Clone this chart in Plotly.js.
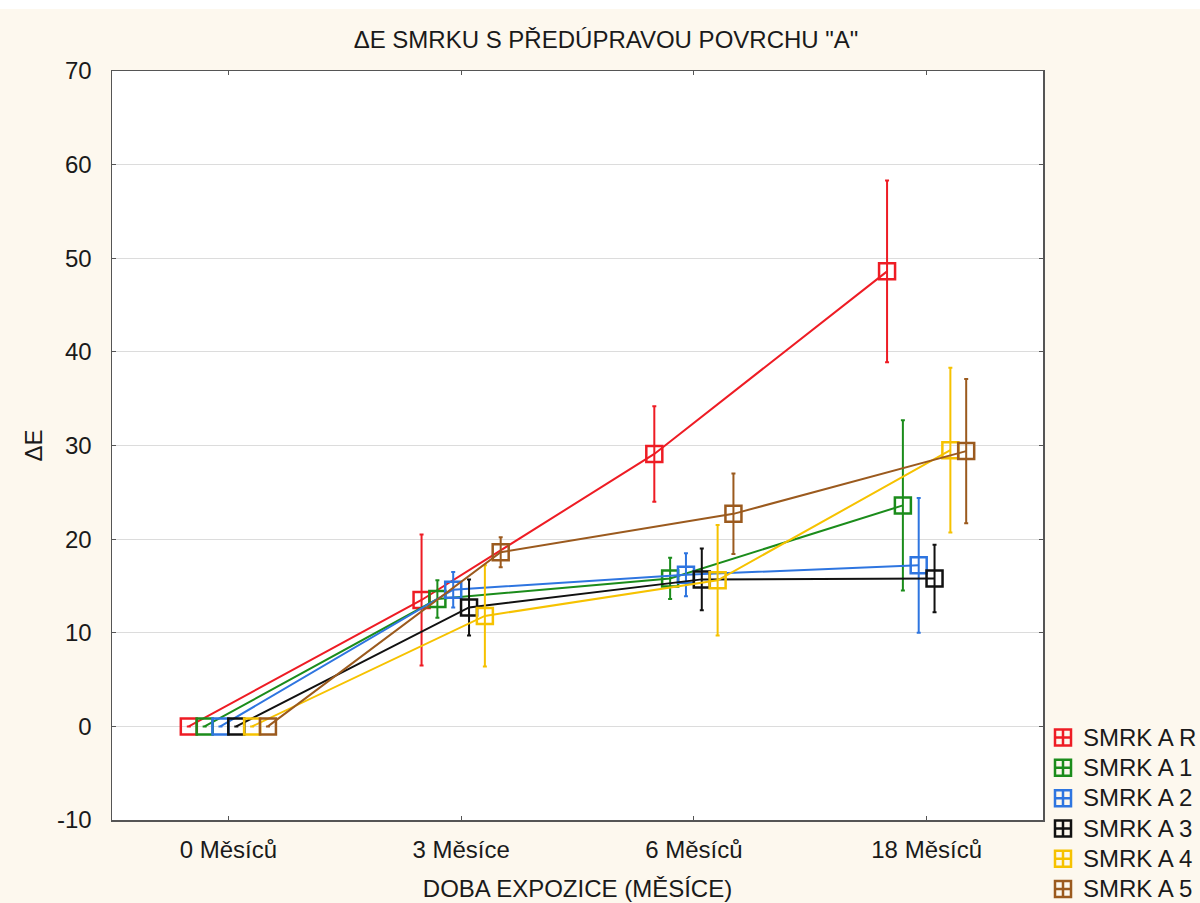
<!DOCTYPE html>
<html>
<head>
<meta charset="utf-8">
<script src="https://cdn.plot.ly/plotly-3.0.1.min.js"></script>
<style>
  html, body { margin: 0; padding: 0; background: #ffffff; }
  #chart { width: 1200px; height: 894px; margin-top: 9px; }
</style>
</head>
<body>
<div id="chart"></div>
<script>
// Categories (x axis)
const categories = ['0 Měsíců', '3 Měsíce', '6 Měsíců', '18 Měsíců'];

// Series names
const seriesNames = ['SMRK A R', 'SMRK A 1', 'SMRK A 2', 'SMRK A 3', 'SMRK A 4', 'SMRK A 5'];

// Mean ΔE values
const smrkR = [0, 13.5, 29.1, 48.6];
const smrk1 = [0, 13.6, 15.8, 23.6];
const smrk2 = [0, 14.6, 16.2, 17.2];
const smrk3 = [0, 12.7, 15.7, 15.8];
const smrk4 = [0, 11.8, 15.6, 29.5];
const smrk5 = [0, 18.6, 22.7, 29.4];

// Error bar half-lengths
const errR = [0, 7.0, 5.1, 9.7];
const err1 = [0, 2.0, 2.2, 9.1];
const err2 = [0, 1.9, 2.3, 7.2];
const err3 = [0, 3.0, 3.3, 3.6];
const err4 = [0, 5.4, 5.9, 8.8];
const err5 = [0, 1.6, 4.3, 7.7];

const yTickVals = [-10, 0, 10, 20, 30, 40, 50, 60, 70];
const yTickText = ['-10', '0', '10', '20', '30', '40', '50', '60', '70'];

// Styling
const colors = ['#ee1c24', '#1b8c1b', '#2e75e0', '#111111', '#f6c200', '#9b5a1e'];
const values = [smrkR, smrk1, smrk2, smrk3, smrk4, smrk5];
const errors = [errR, err1, err2, err3, err4, err5];
const dodge = 0.068;
const FONT = 'Liberation Sans, Arial, sans-serif';

const traces = [];
values.forEach((vals, s) => {
  const xs = categories.map((c, i) => i + (s - 2.5) * dodge);
  traces.push({
    type: 'scatter',
    mode: 'lines+markers',
    x: xs,
    y: vals,
    name: seriesNames[s],
    showlegend: false,
    line: { color: colors[s], width: 2 },
    marker: { symbol: 'square-open', size: 16, color: colors[s], line: { color: colors[s], width: 2.5 } },
    error_y: { type: 'data', array: errors[s], visible: true, color: colors[s], thickness: 2, width: 2 },
    cliponaxis: false
  });
});
// Legend entries
values.forEach((vals, s) => {
  traces.push({
    type: 'scatter',
    mode: 'markers',
    x: [null],
    y: [null],
    name: '<span style="font-size:24px">' + seriesNames[s] + '</span>',
    showlegend: true,
    marker: { symbol: 'square-cross-open', size: 16, color: colors[s], line: { color: colors[s], width: 2.5 } }
  });
});

const layout = {
  width: 1200,
  height: 894,
  paper_bgcolor: '#fdf8ee',
  plot_bgcolor: '#ffffff',
  font: { family: FONT, size: 24, color: '#1a1a1a' },
  margin: { l: 112, r: 157, t: 62, b: 83, pad: 0, autoexpand: false },
  title: {
    text: 'ΔE SMRKU S PŘEDÚPRAVOU POVRCHU "A"',
    font: { family: FONT, size: 24, color: '#1a1a1a' },
    x: 0.505, xanchor: 'center',
    y: 0.9653, yanchor: 'middle'
  },
  xaxis: {
    range: [-0.5, 3.5],
    tickvals: [0, 1, 2, 3],
    ticktext: categories,
    automargin: false,
    showgrid: false,
    zeroline: false,
    showline: true,
    linecolor: '#555555',
    linewidth: 1.5,
    mirror: 'ticks',
    ticks: 'inside',
    ticklen: 4,
    tickwidth: 1,
    tickcolor: '#555555',
    ticklabelstandoff: 8,
    tickfont: { family: FONT, size: 24, color: '#1a1a1a' },
    title: { text: 'DOBA EXPOZICE (MĚSÍCE)', font: { family: FONT, size: 24, color: '#1a1a1a' }, standoff: 18 }
  },
  yaxis: {
    range: [-10, 70],
    tickvals: yTickVals,
    ticktext: yTickText,
    automargin: false,
    showgrid: true,
    gridcolor: '#dcdcdc',
    gridwidth: 1,
    zeroline: false,
    showline: true,
    linecolor: '#555555',
    linewidth: 1.5,
    mirror: 'ticks',
    ticks: 'inside',
    ticklen: 4,
    tickwidth: 1,
    tickcolor: '#555555',
    ticklabelstandoff: 14,
    tickfont: { family: FONT, size: 24, color: '#1a1a1a' },
    title: { text: 'ΔE', font: { family: FONT, size: 24, color: '#1a1a1a' }, standoff: 7 }
  },
  legend: {
    x: 1.0, xanchor: 'left',
    y: 0.137, yanchor: 'top',
    bgcolor: 'rgba(0,0,0,0)',
    borderwidth: 0,
    font: { family: FONT, size: 21, color: '#1a1a1a' },
    itemwidth: 30,
    tracegroupgap: 0
  },
  showlegend: true
};

Plotly.newPlot('chart', traces, layout, { displayModeBar: false, staticPlot: true });
</script>
</body>
</html>
